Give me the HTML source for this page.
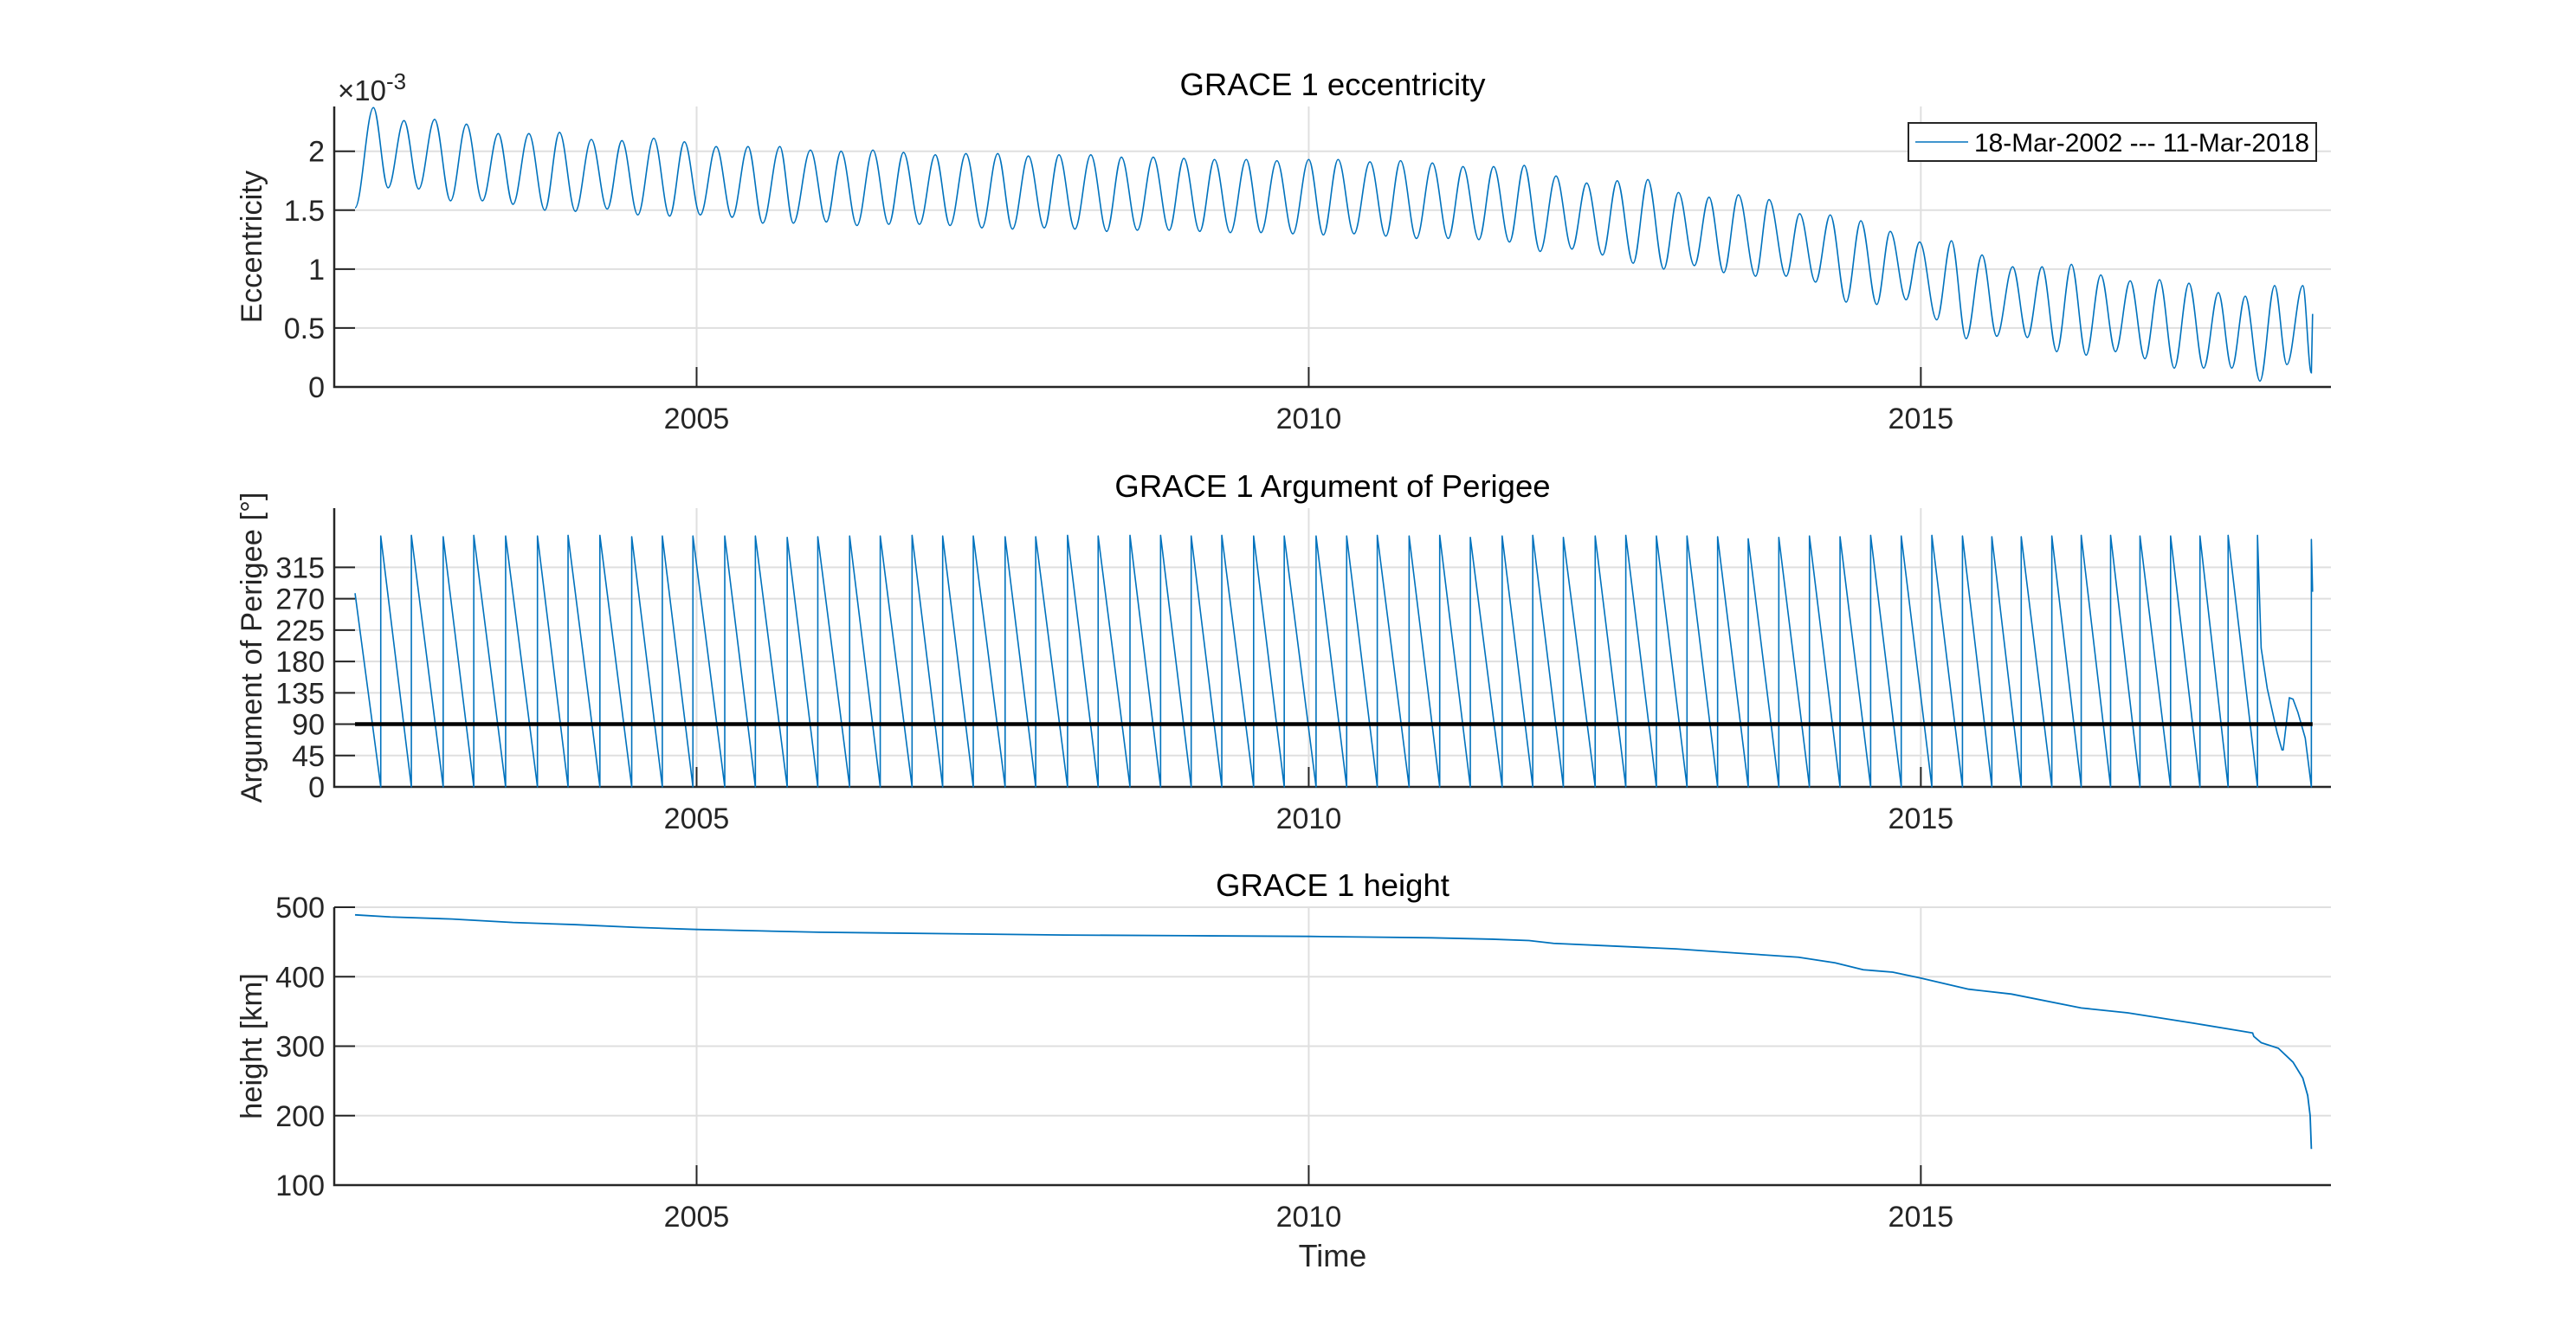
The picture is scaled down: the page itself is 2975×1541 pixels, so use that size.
<!DOCTYPE html>
<html><head><meta charset="utf-8"><style>
html,body{margin:0;padding:0;background:#fff;}
svg{display:block;font-family:"Liberation Sans",Arial,sans-serif;}
</style></head><body>
<svg id="fig" width="2975" height="1541" viewBox="0 0 2975 1541"></svg>
<script>
// ---------- data ----------
const xTickYears = [2005, 2010, 2015];
const xTickLabels = ["2005", "2010", "2015"];
// eccentricity extrema (x1e-3)
const eccT = [2002.21,2002.36,2002.48,2002.61,2002.73,2002.86,2002.99,2003.12,2003.25,2003.38,2003.50,2003.63,2003.76,2003.88,2004.01,2004.14,2004.27,2004.39,2004.52,2004.65,2004.78,2004.90,2005.03,2005.16,2005.29,2005.42,2005.54,2005.68,2005.79,2005.93,2006.06,2006.18,2006.31,2006.44,2006.57,2006.69,2006.82,2006.95,2007.07,2007.20,2007.33,2007.46,2007.58,2007.71,2007.84,2007.96,2008.09,2008.22,2008.35,2008.47,2008.60,2008.73,2008.86,2008.98,2009.11,2009.23,2009.36,2009.49,2009.61,2009.74,2009.87,2010.00,2010.12,2010.24,2010.37,2010.50,2010.63,2010.75,2010.88,2011.01,2011.14,2011.26,2011.39,2011.51,2011.64,2011.76,2011.89,2012.02,2012.15,2012.27,2012.40,2012.52,2012.65,2012.77,2012.90,2013.02,2013.15,2013.27,2013.39,2013.51,2013.65,2013.76,2013.90,2014.01,2014.14,2014.26,2014.39,2014.51,2014.64,2014.75,2014.88,2014.99,2015.13,2015.25,2015.37,2015.50,2015.62,2015.75,2015.87,2015.99,2016.11,2016.23,2016.35,2016.47,2016.59,2016.71,2016.83,2016.95,2017.07,2017.19,2017.31,2017.43,2017.54,2017.65,2017.77,2017.89,2017.99,2018.12,2018.19];
const eccV = [1.52,2.37,1.69,2.26,1.68,2.27,1.58,2.23,1.58,2.15,1.55,2.15,1.50,2.16,1.49,2.10,1.51,2.09,1.46,2.11,1.45,2.08,1.46,2.04,1.44,2.04,1.39,2.04,1.39,2.01,1.40,2.00,1.37,2.01,1.38,1.99,1.38,1.97,1.37,1.98,1.35,1.98,1.34,1.96,1.35,1.97,1.34,1.97,1.32,1.95,1.33,1.95,1.33,1.94,1.32,1.93,1.31,1.93,1.31,1.92,1.30,1.93,1.29,1.93,1.30,1.91,1.28,1.92,1.26,1.90,1.26,1.87,1.25,1.87,1.23,1.88,1.15,1.79,1.17,1.73,1.12,1.75,1.05,1.76,1.00,1.65,1.03,1.61,0.97,1.63,0.94,1.59,0.94,1.47,0.89,1.46,0.72,1.41,0.70,1.32,0.74,1.23,0.57,1.24,0.41,1.12,0.43,1.02,0.42,1.02,0.30,1.04,0.27,0.95,0.30,0.90,0.24,0.91,0.16,0.88,0.16,0.80,0.16,0.77,0.05,0.86,0.19,0.86,0.12];
const eccEndT = [2018.19, 2018.20];
const eccEndV = [0.12, 0.62];
const eccTicks = [0, 0.5, 1, 1.5, 2];
const eccTickLabels = ["0", "0.5", "1", "1.5", "2"];
// argument of perigee
const omegaStartT = [2002.21];
const omegaStartV = [278];
const omegaJumpT = [2002.42,2002.67,2002.93,2003.18,2003.44,2003.70,2003.95,2004.21,2004.47,2004.72,2004.97,2005.23,2005.48,2005.74,2005.99,2006.25,2006.50,2006.76,2007.01,2007.26,2007.52,2007.77,2008.03,2008.28,2008.54,2008.79,2009.04,2009.29,2009.55,2009.80,2010.06,2010.31,2010.56,2010.82,2011.07,2011.32,2011.58,2011.83,2012.08,2012.34,2012.59,2012.84,2013.09,2013.34,2013.59,2013.84,2014.09,2014.34,2014.59,2014.84,2015.09,2015.34,2015.58,2015.82,2016.07,2016.31,2016.55,2016.79,2017.04,2017.28,2017.51,2017.75];
const omegaTopV = [360,361,359,361,360,360,361,361,359,360,360,360,360,358,359,360,360,361,360,360,359,359,361,360,361,361,360,361,360,360,360,360,361,360,361,358,360,361,358,360,361,360,360,359,356,358,360,359,361,360,361,360,359,359,360,361,361,360,360,360,361,361];
const omegaEndT = [2017.78,2017.83,2017.91,2017.95,2017.96,2018.01,2018.04,2018.08,2018.14,2018.19,2018.19,2018.20];
const omegaEndV = [199,141,78,53,53,128,126,107,70,0,355,280];
const omegaRef = [90];
const omegaTicks = [0,45,90,135,180,225,270,315];
const omegaTickLabels = ["0","45","90","135","180","225","270","315"];
// height [km]
const hT = [2002.21,2002.5,2003.0,2003.5,2004.0,2004.5,2005.0,2005.5,2006.0,2006.5,2007.0,2008.0,2009.0,2010.0,2010.5,2011.0,2011.5,2011.8,2012.0,2012.5,2013.0,2013.5,2014.0,2014.3,2014.53,2014.77,2015.0,2015.39,2015.74,2016.31,2016.69,2017.23,2017.61,2017.71,2017.72,2017.78,2017.92,2018.04,2018.12,2018.16,2018.18,2018.19];
const hV = [489,486,483,478,475,471,468,466,464,463,462,460,459,458,457,456,454,452,448,444,440,434,428,420,410,406.5,398,382,375,355,348,333,322,319,314,305,297,277,254,229,200,152];
const hTicks = [100,200,300,400,500];
const hTickLabels = ["100","200","300","400","500"];

// ---------- layout ----------
const NS = "http://www.w3.org/2000/svg";
const svg = document.getElementById('fig');
const L = 386, R = 2692, X0 = 2002.04, X1 = 2018.35;
function xs(t){ return L + (t - X0) / (X1 - X0) * (R - L); }
function mk(tag, attrs, parent){
  const e = document.createElementNS(NS, tag);
  for (const k in attrs) e.setAttribute(k, attrs[k]);
  (parent || svg).appendChild(e);
  return e;
}
function panel(name, top, bottom, y0, y1, ticks, labels, title, ylabel){
  const g = mk('g', {});
  
  
  const ys = v => bottom - (v - y0) / (y1 - y0) * (bottom - top);
  ticks.forEach((v,i) => {
    const gl = mk('line', {x1:L, x2:R, y1:ys(v), y2:ys(v), stroke:'#dfdfdf', 'stroke-width':2}, g);
    
    
  });
  xTickYears.forEach(t => {
    const gl = mk('line', {x1:xs(t), x2:xs(t), y1:top, y2:bottom, stroke:'#dfdfdf', 'stroke-width':2}, g);
    
    
  });
  const ax = mk('path', {d:`M${L},${top}V${bottom}H${R}`, fill:'none', stroke:'#262626', 'stroke-width':2.5}, g);
  
  
  ticks.forEach((v,i) => {
    mk('line', {x1:L, x2:L+24, y1:ys(v), y2:ys(v), stroke:'#262626', 'stroke-width':2}, g);
    const tl = mk('text', {x:375, y:ys(v)+12, 'text-anchor':'end', 'font-size':34, fill:'#262626'}, g);
    tl.textContent = labels[i];
    
    
  });
  xTickYears.forEach((t,i) => {
    mk('line', {x1:xs(t), x2:xs(t), y1:bottom, y2:bottom-23, stroke:'#262626', 'stroke-width':2}, g);
    const tl = mk('text', {x:xs(t), y:bottom+48, 'text-anchor':'middle', 'font-size':34, fill:'#262626'}, g);
    tl.textContent = xTickLabels[i];
    
    
  });
  const tt = mk('text', {x:(L+R)/2, y:top-13, 'text-anchor':'middle', 'font-size':36.5, fill:'#000'}, g);
  tt.textContent = title;
  
  
  const cy = (top+bottom)/2;
  const yl = mk('text', {x:0, y:0, transform:`translate(302,${cy}) rotate(-90)`, 'text-anchor':'middle', 'font-size':34.5, fill:'#262626'}, g);
  yl.textContent = ylabel;
  
  
  return {g, ys};
}

// Panel 1: eccentricity
const p1 = panel('eccentricity', 123, 447, 0, 2.38, eccTicks, eccTickLabels, 'GRACE 1 eccentricity', 'Eccentricity');
const mult = mk('text', {x:390, y:116, 'font-size':33, fill:'#262626'});
mult.innerHTML = '×10<tspan dy="-13" font-size="26">-3</tspan>';


{
  let d = `M${xs(eccT[0])},${p1.ys(eccV[0])}`;
  for (let i = 1; i < eccT.length; i++){
    const xa = xs(eccT[i-1]), xb = xs(eccT[i]), ya = p1.ys(eccV[i-1]), yb = p1.ys(eccV[i]);
    const k = (xb - xa) * 0.36;
    d += ` C${xa+k},${ya} ${xb-k},${yb} ${xb},${yb}`;
  }
  for (let i = 0; i < eccEndT.length; i++) d += ` L${xs(eccEndT[i])},${p1.ys(eccEndV[i])}`;
  const line = mk('path', {d, fill:'none', stroke:'#0072BD', 'stroke-width':1.6});
  
  
}
// legend
const lg = mk('g', {});


mk('rect', {x:2204, y:142, width:471, height:44, fill:'#fff', stroke:'#262626', 'stroke-width':2}, lg);
const ls = mk('line', {x1:2212, x2:2273, y1:164, y2:164, stroke:'#0072BD', 'stroke-width':1.6}, lg);


const lt = mk('text', {x:2280, y:175, 'font-size':30, fill:'#000', textLength:387, lengthAdjust:'spacingAndGlyphs'}, lg);
lt.textContent = '18-Mar-2002 --- 11-Mar-2018';



// Panel 2: argument of perigee
const p2 = panel('perigee', 587, 909, 0, 400, omegaTicks, omegaTickLabels, 'GRACE 1 Argument of Perigee', 'Argument of Perigee [°]');
{
  let d = `M${xs(omegaStartT[0])},${p2.ys(omegaStartV[0])}`;
  for (let i = 0; i < omegaJumpT.length; i++){
    d += ` L${xs(omegaJumpT[i])},${p2.ys(0)} L${xs(omegaJumpT[i])},${p2.ys(omegaTopV[i])}`;
  }
  for (let i = 0; i < omegaEndT.length; i++) d += ` L${xs(omegaEndT[i])},${p2.ys(omegaEndV[i])}`;
  const line = mk('path', {d, fill:'none', stroke:'#0072BD', 'stroke-width':1.6, 'stroke-linejoin':'round'});
  
  
  const ref = mk('line', {x1:xs(omegaStartT[0]), x2:xs(omegaEndT[omegaEndT.length-1]), y1:p2.ys(omegaRef[0]), y2:p2.ys(omegaRef[0]), stroke:'#000', 'stroke-width':4.5});
  
  
}

// Panel 3: height
const p3 = panel('height', 1048, 1369, 100, 500, hTicks, hTickLabels, 'GRACE 1 height', 'height [km]');
{
  const pts = hT.map((t,i) => `${xs(t)},${p3.ys(hV[i])}`).join(' ');
  const line = mk('polyline', {points:pts, fill:'none', stroke:'#0072BD', 'stroke-width':1.8});
  
  
}
const xl = mk('text', {x:(L+R)/2, y:1463, 'text-anchor':'middle', 'font-size':36, fill:'#262626'});
xl.textContent = 'Time';


</script>
</body></html>
